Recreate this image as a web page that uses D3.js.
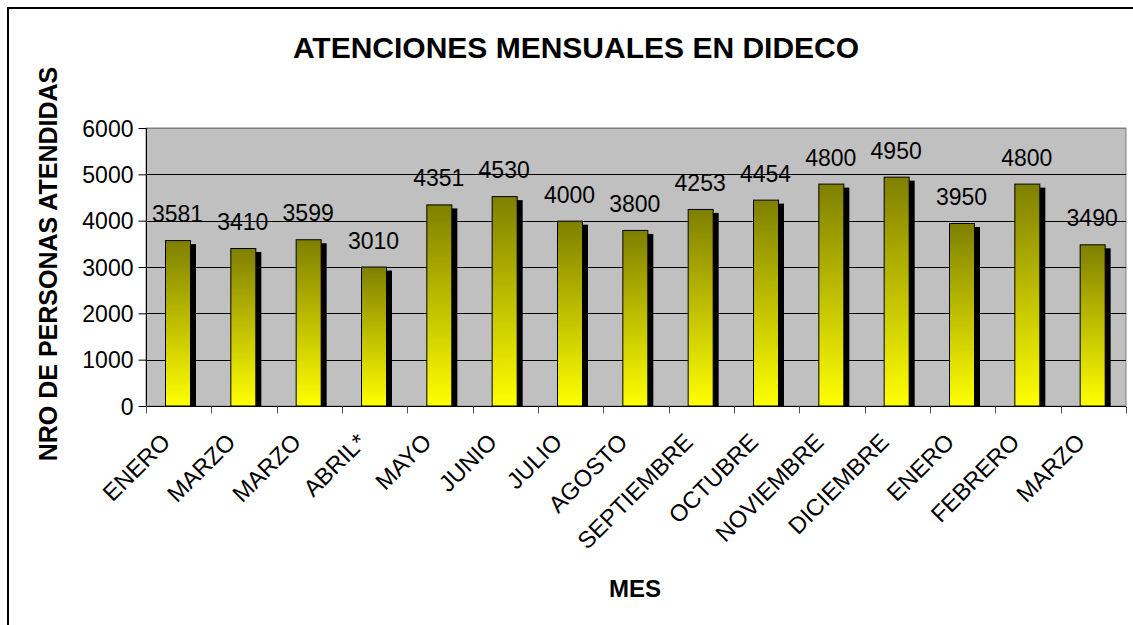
<!DOCTYPE html>
<html><head><meta charset="utf-8">
<script src="https://cdn.jsdelivr.net/npm/d3@7"></script>
<style>body{margin:0;background:#fff}svg{display:block}text{font-family:Arial,"Liberation Sans",sans-serif}</style>
</head><body><svg id="c" width="1133" height="625"></svg>
<script>
const categories = ["ENERO","MARZO","MARZO","ABRIL*","MAYO","JUNIO","JULIO","AGOSTO","SEPTIEMBRE","OCTUBRE","NOVIEMBRE","DICIEMBRE","ENERO","FEBRERO","MARZO"];
const values = [3581,3410,3599,3010,4351,4530,4000,3800,4253,4454,4800,4950,3950,4800,3490];
const yTicks = [0,1000,2000,3000,4000,5000,6000];
const titleText = "ATENCIONES MENSUALES EN DIDECO";
const yTitle = "NRO DE PERSONAS ATENDIDAS";
const xTitle = "MES";

const svg = d3.select("#c");
const L = 146, R = 1126, T = 128, B = 406;

svg.append("rect").attr("x",8).attr("y",8).attr("width",1150).attr("height",640)
  .attr("fill","#fff").attr("stroke","#000").attr("stroke-width",2);

const defs = svg.append("defs");
const g = defs.append("linearGradient").attr("id","bg").attr("x1",0).attr("y1",0).attr("x2",0).attr("y2",1);
g.append("stop").attr("offset","0%").attr("stop-color","#7f7f00");
g.append("stop").attr("offset","100%").attr("stop-color","#ffff00");

const idx = categories.map((d,i)=>i);
const x = d3.scaleBand().domain(idx).range([L,R]).paddingInner(0).paddingOuter(0);
const y = d3.scaleLinear().domain([0,6000]).range([B,T]);

svg.append("rect").attr("x",L).attr("y",T).attr("width",R-L).attr("height",B-T)
  .attr("fill","#c0c0c0").attr("stroke","#808080").attr("stroke-width",1);

// gridlines
svg.append("g").selectAll("line").data(yTicks.filter(t=>t>0)).join("line")
  .attr("x1",L).attr("x2",R).attr("y1",d=>Math.round(y(d))+0.5).attr("y2",d=>Math.round(y(d))+0.5)
  .attr("stroke", d=> d===6000 ? "#808080" : "#000").attr("stroke-width",1);

const bw = 25, off = 19;
const bars = svg.append("g");
// shadows
bars.selectAll("rect.s").data(values).join("rect").attr("class","s")
  .attr("x",(d,i)=>x(i)+off+6).attr("y",d=>y(d)+4).attr("width",bw).attr("height",d=>B-y(d)-4)
  .attr("fill","#000");
bars.selectAll("rect.b").data(values).join("rect").attr("class","b")
  .attr("x",(d,i)=>x(i)+off+0.5).attr("y",d=>y(d)+0.5).attr("width",bw).attr("height",d=>B-y(d)-0.5)
  .attr("fill","url(#bg)").attr("stroke","#000").attr("stroke-width",1);

// value labels
svg.append("g").selectAll("text").data(values).join("text")
  .attr("x",(d,i)=>x(i)+off+bw/2).attr("y",d=>y(d)-18)
  .attr("text-anchor","middle").attr("font-size",23).attr("fill","#000").text(d=>d);

// y axis
const ya = svg.append("g").attr("transform",`translate(${L+0.5},0)`)
  .call(d3.axisLeft(y).tickValues(yTicks).tickSize(8).tickPadding(5).tickFormat(d3.format("d")));
ya.selectAll("text").attr("font-size",23).attr("font-family","Arial, Liberation Sans, sans-serif").attr("fill","#000").attr("dy","0.36em");
ya.selectAll("line,path").attr("stroke","#000");
ya.select(".domain").attr("d",`M0,${T}V${B}`);

// x axis
const xa = svg.append("g").attr("transform",`translate(0,${B+0.5})`);
xa.append("line").attr("x1",L).attr("x2",R).attr("stroke","#000");
xa.selectAll("line.t").data(d3.range(categories.length+1)).join("line").attr("class","t")
  .attr("x1",i=>Math.round(L+i*x.bandwidth())+0.5).attr("x2",i=>Math.round(L+i*x.bandwidth())+0.5)
  .attr("y1",0).attr("y2",7).attr("stroke","#555");
xa.selectAll("text").data(categories).join("text")
  .attr("transform",(d,i)=>`translate(${x(i)+x.bandwidth()/2-7},${37}) rotate(-45)`)
  .attr("text-anchor","end").attr("font-size",23.5).attr("fill","#000").text(d=>d);

svg.append("text").attr("x",576).attr("y",58).attr("text-anchor","middle")
  .attr("font-size",30).attr("font-weight","bold").text(titleText);
svg.append("text").attr("transform","translate(57,264) rotate(-90)").attr("text-anchor","middle")
  .attr("font-size",25).attr("font-weight","bold").text(yTitle);
svg.append("text").attr("x",635).attr("y",597).attr("text-anchor","middle")
  .attr("font-size",24).attr("font-weight","bold").text(xTitle);
</script></body></html>
